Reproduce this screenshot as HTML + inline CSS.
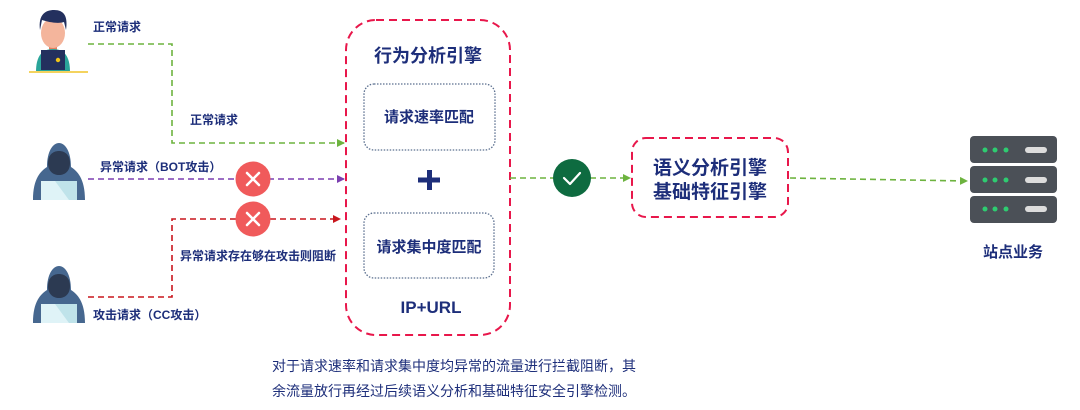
<!DOCTYPE html>
<html><head><meta charset="utf-8"><style>
html,body{margin:0;padding:0;background:#fff;}
svg{display:block;}
text{font-family:"Liberation Sans","Noto Sans CJK SC",sans-serif;font-weight:bold;fill:#1d2e7a;}
</style></head><body>
<svg width="1080" height="410" viewBox="0 0 1080 410" xmlns="http://www.w3.org/2000/svg">
<defs>
<marker id="ag" markerWidth="8" markerHeight="8" refX="7" refY="4" orient="auto" markerUnits="userSpaceOnUse"><path d="M0,0 L8,4 L0,8z" fill="#6db33f"/></marker>
<marker id="ap" markerWidth="8" markerHeight="8" refX="7" refY="4" orient="auto" markerUnits="userSpaceOnUse"><path d="M0,0 L8,4 L0,8z" fill="#7b3fb0"/></marker>
<marker id="ar" markerWidth="8" markerHeight="8" refX="7" refY="4" orient="auto" markerUnits="userSpaceOnUse"><path d="M0,0 L8,4 L0,8z" fill="#c8161d"/></marker>
<g id="hacker">
<path d="M0,57 C0,35 8,28 14,24 C14,8 20,0 26,0 C32,0 38,8 38,24 C44,28 52,35 52,57z" fill="#46678f"/>
<path d="M15,20 C15,12 20,8 26,8 C32,8 37,12 37,20 C37,28 32,32 26,32 C20,32 15,28 15,20z" fill="#2c3a52"/>
<rect x="8" y="38" width="36" height="19" fill="#dff3f7"/>
<path d="M22,38 L44,38 L44,57 L36,57z" fill="#bfe3ea"/>
</g>
</defs>

<!-- user -->
<rect x="49" y="44" width="8" height="6" fill="#e67f5f"/>
<path d="M36,72 C36,56 42,49 53,49 C64,49 70,56 70,72z" fill="#2aa59a"/>
<ellipse cx="53" cy="33" rx="12" ry="15" fill="#f4b59c"/>
<path d="M40,30 C38,14 46,10 54,10 C64,10 68,16 66,30 L64,22 C58,24 48,22 42,20z" fill="#23305e"/>
<rect x="41" y="50" width="24" height="20" fill="#23305e"/>
<circle cx="58" cy="60" r="2.2" fill="#f0c419"/>
<rect x="29" y="71" width="59" height="2" fill="#f4d35e"/>

<use href="#hacker" x="33" y="143"/>
<use href="#hacker" x="33" y="266"/>

<!-- labels -->
<text x="93" y="31" font-size="12">正常请求</text>
<text x="190" y="124" font-size="12">正常请求</text>
<text x="100" y="171" font-size="12">异常请求（BOT攻击）</text>
<text x="180" y="260" font-size="12">异常请求存在够在攻击则阻断</text>
<text x="93" y="319" font-size="12">攻击请求（CC攻击）</text>

<!-- lines -->
<path d="M88,44 H172 V143 H344" fill="none" stroke="#6db33f" stroke-width="1.6" stroke-dasharray="6,4" marker-end="url(#ag)"/>
<path d="M88,179 H344" fill="none" stroke="#7b3fb0" stroke-width="1.6" stroke-dasharray="6,4" marker-end="url(#ap)"/>
<path d="M88,297 H172 V219 H340" fill="none" stroke="#c8161d" stroke-width="1.6" stroke-dasharray="6,4" marker-end="url(#ar)"/>

<g stroke="#fff" stroke-width="2.5" stroke-linecap="round">
<circle cx="253" cy="179" r="17.5" fill="#f05a5b" stroke="none"/>
<path d="M247,173 L259,185 M259,173 L247,185"/>
<circle cx="253" cy="219" r="17.5" fill="#f05a5b" stroke="none"/>
<path d="M247,213 L259,225 M259,213 L247,225"/>
</g>

<!-- big box -->
<rect x="346" y="20" width="164" height="315" rx="30" fill="none" stroke="#e8174b" stroke-width="2" stroke-dasharray="8,5"/>
<text x="428" y="62" font-size="18" text-anchor="middle">行为分析引擎</text>
<rect x="364" y="84" width="131" height="66" rx="10" fill="none" stroke="#5b6f8f" stroke-width="1.3" stroke-dasharray="1.5,1.5"/>
<text x="429" y="122" font-size="15" text-anchor="middle">请求速率匹配</text>
<rect x="427" y="170" width="5" height="20" fill="#1d2e7a"/>
<rect x="418" y="177.5" width="22" height="5" fill="#1d2e7a"/>
<rect x="364" y="213" width="130" height="65" rx="10" fill="none" stroke="#5b6f8f" stroke-width="1.3" stroke-dasharray="1.5,1.5"/>
<text x="429" y="252" font-size="15" text-anchor="middle">请求集中度匹配</text>
<text x="431" y="313" font-size="17" text-anchor="middle">IP+URL</text>

<!-- pass -->
<path d="M510,178 H630" fill="none" stroke="#6db33f" stroke-width="1.6" stroke-dasharray="6,4" marker-end="url(#ag)"/>
<circle cx="572" cy="178" r="19" fill="#0e6b40"/>
<path d="M564,178 L570,184 L580,173" fill="none" stroke="#fff" stroke-width="2.2" stroke-linecap="round" stroke-linejoin="round"/>

<rect x="632" y="138" width="156" height="79" rx="14" fill="none" stroke="#e8174b" stroke-width="2" stroke-dasharray="8,5"/>
<text x="710" y="174" font-size="19" text-anchor="middle">语义分析引擎</text>
<text x="710" y="198" font-size="19" text-anchor="middle">基础特征引擎</text>

<path d="M790,178 L967,181" fill="none" stroke="#6db33f" stroke-width="1.6" stroke-dasharray="6,4" marker-end="url(#ag)"/>

<!-- server -->
<g>
<rect x="970" y="136" width="87" height="27" rx="4" fill="#4b5057"/>
<rect x="970" y="166" width="87" height="27" rx="4" fill="#4b5057"/>
<rect x="970" y="196" width="87" height="27" rx="4" fill="#4b5057"/>
<g fill="#2ecc71">
<circle cx="985" cy="150" r="2.5"/><circle cx="995" cy="150" r="2.5"/><circle cx="1006" cy="150" r="2.5"/>
<circle cx="985" cy="180" r="2.5"/><circle cx="995" cy="180" r="2.5"/><circle cx="1006" cy="180" r="2.5"/>
<circle cx="985" cy="209" r="2.5"/><circle cx="995" cy="209" r="2.5"/><circle cx="1006" cy="209" r="2.5"/>
</g>
<g fill="#dcdcdc">
<rect x="1025" y="147" width="22" height="6" rx="3"/>
<rect x="1025" y="177" width="22" height="6" rx="3"/>
<rect x="1025" y="206" width="22" height="6" rx="3"/>
</g>
</g>
<text x="1013" y="257" font-size="15" text-anchor="middle">站点业务</text>

<text x="272" y="371" font-size="14" style="font-weight:normal" fill="#2d3f8a">对于请求速率和请求集中度均异常的流量进行拦截阻断，其</text>
<text x="272" y="396" font-size="14" style="font-weight:normal" fill="#2d3f8a">余流量放行再经过后续语义分析和基础特征安全引擎检测。</text>
</svg>
</body></html>
